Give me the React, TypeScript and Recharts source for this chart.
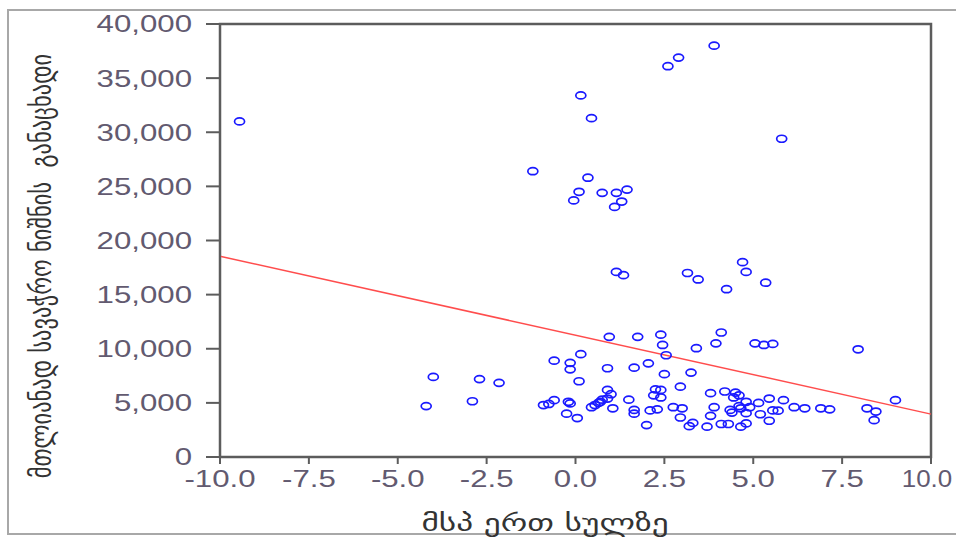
import React from 'react';
import {
  ScatterChart,
  Scatter,
  XAxis,
  YAxis,
  ReferenceLine,
  ReferenceArea
} from 'recharts';

// GDP per capita growth (x) vs. total trademark applications (y)
const gdpPerCapita = [
  -9.45, -4.2, -4.0, -2.9, -2.7, -2.15, -1.2, -0.9, -0.75, -0.6, -0.6, -0.2, -0.15, -0.25, -0.15, -0.15,
  -0.05, 0.05, 0.1, 0.1, 0.15, 0.15, 0.35, 0.45, 0.45, 0.55, 0.65, 0.7, 0.75, 0.75, 0.9, 0.9, 0.9, 0.95,
  1.0, 1.05, 1.1, 1.15, 1.15, 1.3, 1.35, 1.45, 1.5, 1.65, 1.65, 1.65, 1.75, 2.0, 2.05, 2.1, 2.2, 2.25,
  2.3, 2.4, 2.4, 2.4, 2.45, 2.5, 2.55, 2.6, 2.75, 2.9, 2.95, 2.95, 3.0, 3.15, 3.2, 3.25, 3.3, 3.4, 3.45,
  3.7, 3.8, 3.8, 3.9, 3.9, 3.95, 4.1, 4.1, 4.2, 4.25, 4.3, 4.35, 4.4, 4.45, 4.5, 4.6, 4.6, 4.65, 4.65,
  4.7, 4.8, 4.8, 4.8, 4.8, 4.9, 5.05, 5.15, 5.2, 5.3, 5.35, 5.45, 5.45, 5.55, 5.55, 5.7, 5.8, 5.85,
  6.15, 6.45, 6.9, 7.15, 7.95, 8.2, 8.45, 8.4, 9.0
];

const trademarkApps = [
  31000, 4700, 7400, 5150, 7200, 6850, 26400, 4800, 4900, 5250, 8900, 5100, 4950, 4000, 8700, 8100,
  23700, 3600, 24500, 7000, 33400, 9500, 25800, 31300, 4600, 4800, 5000, 5100, 24400, 5300, 6200, 5400, 8200, 11100,
  5800, 4500, 23100, 24400, 17100, 23600, 16800, 24700, 5300, 8250, 4350, 4000, 11100, 2950, 8650, 4300, 5700, 6250,
  4400, 11300, 6200, 5500, 10350, 7650, 9400, 36100, 4600, 36900, 6500, 3650, 4500, 17000, 2850, 7800, 3150, 10050, 16400,
  2800, 5900, 3800, 38000, 4600, 10500, 11500, 3050, 6050, 15500, 3050, 4350, 4100, 5500, 5950, 5700, 4700, 4500, 2800,
  18000, 17100, 5100, 4050, 3100, 4600, 10500, 5000, 3950, 10350, 16100, 5400, 3350, 10450, 4300, 4280, 29400, 5250,
  4600, 4500, 4500, 4400, 9950, 4500, 4200, 3400, 5250
];

const xTicks = [-10, -7.5, -5, -2.5, 0, 2.5, 5, 7.5, 10];
const yTicks = [0, 5000, 10000, 15000, 20000, 25000, 30000, 35000, 40000];

// least squares fit line end points
const fitLine = [
  { x: -10, y: 18550 },
  { x: 10, y: 3960 }
];

const xTitle = 'მსპ ერთ სულზე';
const yTitle = 'მთლიანად სავაჭრო ნიშნის  განაცხადი';

const points = gdpPerCapita.map((x, i) => ({ x, y: trademarkApps[i] }));

const TICK_COLOR = '#625a70';
const AXIS_COLOR = '#5c5c5c';
const TICK_FONT = '"Liberation Sans", Arial, sans-serif';

const XTick = ({ x, y, payload }: any) => {
  // the last label sits on the right edge, squeeze it a little so it stays on the page
  const last = payload.value === 10;
  return (
    <text
      transform={`translate(${last ? x - 4 : x},${y}) scale(${last ? 1.08 : 1.3},1)`}
      textAnchor="middle"
      dy="0.71em"
      fill={TICK_COLOR}
      fontSize={24}
      fontFamily={TICK_FONT}
    >
      {payload.value.toFixed(1)}
    </text>
  );
};

const YTick = ({ x, y, payload }: any) => (
  <text
    transform={`translate(${x},${y}) scale(1.3,1)`}
    textAnchor="end"
    dy="0.35em"
    fill={TICK_COLOR}
    fontSize={24}
    fontFamily={TICK_FONT}
  >
    {payload.value.toLocaleString('en-US')}
  </text>
);

const Ring = (props: any) => (
  <ellipse cx={props.cx} cy={props.cy} rx={5} ry={3.5} fill="none" stroke="#1a1aff" strokeWidth={1.7} />
);

export default function App() {
  return (
    <div style={{ position: 'absolute', left: 0, top: 0, width: 956, height: 542, background: '#fff', overflow: 'hidden' }}>
      <div
        style={{
          position: 'absolute',
          left: 7,
          top: 9,
          width: 960,
          height: 522,
          border: '2px solid #a8a8a8',
          borderRight: 'none'
        }}
      />
      <ScatterChart
        width={956}
        height={542}
        margin={{ top: 24, right: 25, left: 100, bottom: 15 }}
        style={{ position: 'absolute', left: 0, top: 0 }}
      >
        <XAxis
          type="number"
          dataKey="x"
          domain={[-10, 10]}
          ticks={xTicks}
          interval={0}
          height={70}
          tickSize={7}
          tickMargin={6}
          stroke={AXIS_COLOR}
          strokeWidth={2}
          tick={<XTick />}
          allowDataOverflow
        />
        <YAxis
          type="number"
          dataKey="y"
          domain={[0, 40000]}
          ticks={yTicks}
          interval={0}
          width={120}
          tickSize={14}
          tickMargin={14}
          stroke={AXIS_COLOR}
          strokeWidth={2}
          tick={<YTick />}
          allowDataOverflow
        />
        <ReferenceArea x1={-10} x2={10} y1={0} y2={40000} fill="none" stroke={AXIS_COLOR} strokeWidth={2.5} />
        <ReferenceLine segment={fitLine} stroke="#ff4d4d" strokeWidth={1.5} />
        <Scatter data={points} shape={<Ring />} isAnimationActive={false} />
      </ScatterChart>
      <div
        style={{
          position: 'absolute',
          left: 545,
          top: 523,
          transform: 'translate(-50%, -50%) scaleX(1.45)',
          whiteSpace: 'nowrap',
          fontFamily: '"DejaVu Sans", sans-serif',
          fontSize: 23,
          color: '#333'
        }}
      >
        {xTitle}
      </div>
      <div
        style={{
          position: 'absolute',
          left: 41,
          top: 266,
          transform: 'translate(-50%, -50%) rotate(-90deg) scaleY(1.3)',
          whiteSpace: 'pre',
          fontFamily: '"DejaVu Sans", sans-serif',
          fontSize: 22.5,
          color: '#333'
        }}
      >
        {yTitle}
      </div>
    </div>
  );
}
